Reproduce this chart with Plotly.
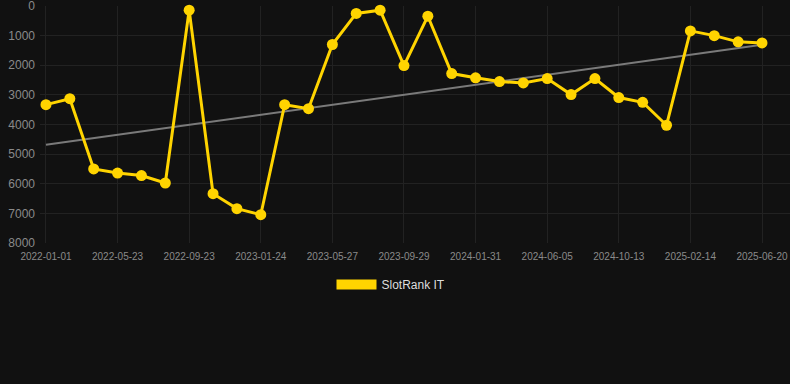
import plotly.graph_objects as go
import numpy as np

dates = ["2022-01-01", "2022-02-17", "2022-04-05", "2022-05-23", "2022-07-03", "2022-08-13",
         "2022-09-23", "2022-11-03", "2022-12-14", "2023-01-24", "2023-03-05", "2023-04-15",
         "2023-05-27", "2023-07-08", "2023-08-18", "2023-09-29", "2023-11-09", "2023-12-20",
         "2024-01-31", "2024-03-12", "2024-04-24", "2024-06-05", "2024-07-18", "2024-08-30",
         "2024-10-13", "2024-11-23", "2025-01-03", "2025-02-14", "2025-03-28", "2025-05-09",
         "2025-06-20"]
rank = [3330, 3130, 5500, 5640, 5725, 5975, 140, 6335, 6840, 7045, 3330, 3465, 1300, 250,
        140, 2010, 345, 2280, 2425, 2550, 2595, 2450, 2990, 2450, 3090, 3250, 4025, 840,
        1000, 1210, 1245]
tick_dates = dates[::3]
y_ticks = [0, 1000, 2000, 3000, 4000, 5000, 6000, 7000, 8000]

idx = np.arange(len(rank))
slope, intercept = np.polyfit(idx, rank, 1)
trend = [intercept + slope * i for i in (0, len(rank) - 1)]

fig = go.Figure()
fig.add_trace(go.Scatter(
    x=[dates[0], dates[-1]], y=trend, mode="lines",
    line=dict(color="#7a7a7a", width=2), showlegend=False, hoverinfo="skip"))
fig.add_trace(go.Scatter(
    x=dates, y=rank, mode="lines+markers", name="SlotRank IT",
    line=dict(color="#FFD400", width=3), marker=dict(color="#FFD400", size=11),
    showlegend=False, cliponaxis=False))
fig.add_trace(go.Scatter(
    x=[None], y=[None], mode="lines", name="SlotRank IT",
    line=dict(color="#FFD400", width=12), showlegend=True))

fig.update_layout(
    width=790, height=384,
    margin=dict(l=40, r=0, t=6, b=141),
    paper_bgcolor="#111111", plot_bgcolor="#111111",
    font=dict(family="Liberation Sans, Arial, sans-serif", color="#8a8a8a"),
    xaxis=dict(type="category", categoryorder="array", categoryarray=dates,
               range=[-0.25, 30 + 28 / 23.87],
               tickmode="array", tickvals=tick_dates, ticktext=tick_dates,
               tickfont=dict(size=10, color="#8a8a8a"),
               showgrid=True, gridcolor="#222222", gridwidth=1,
               zeroline=False, showline=False, ticks="", ticklabelstandoff=6),
    yaxis=dict(range=[8000, 0], tickmode="array", tickvals=y_ticks,
               tickfont=dict(size=12, color="#8a8a8a"),
               showgrid=True, gridcolor="#222222", gridwidth=1,
               zeroline=False, showline=False, ticks="", ticklabelstandoff=4,
               ticklabeloverflow="allow"),
    legend=dict(orientation="h", x=0.468, xanchor="center", y=-0.114, yanchor="top",
                font=dict(size=12, color="#dddddd"), bgcolor="rgba(0,0,0,0)",
                itemwidth=40),
    showlegend=True,
)

fig.write_html("out.html")
